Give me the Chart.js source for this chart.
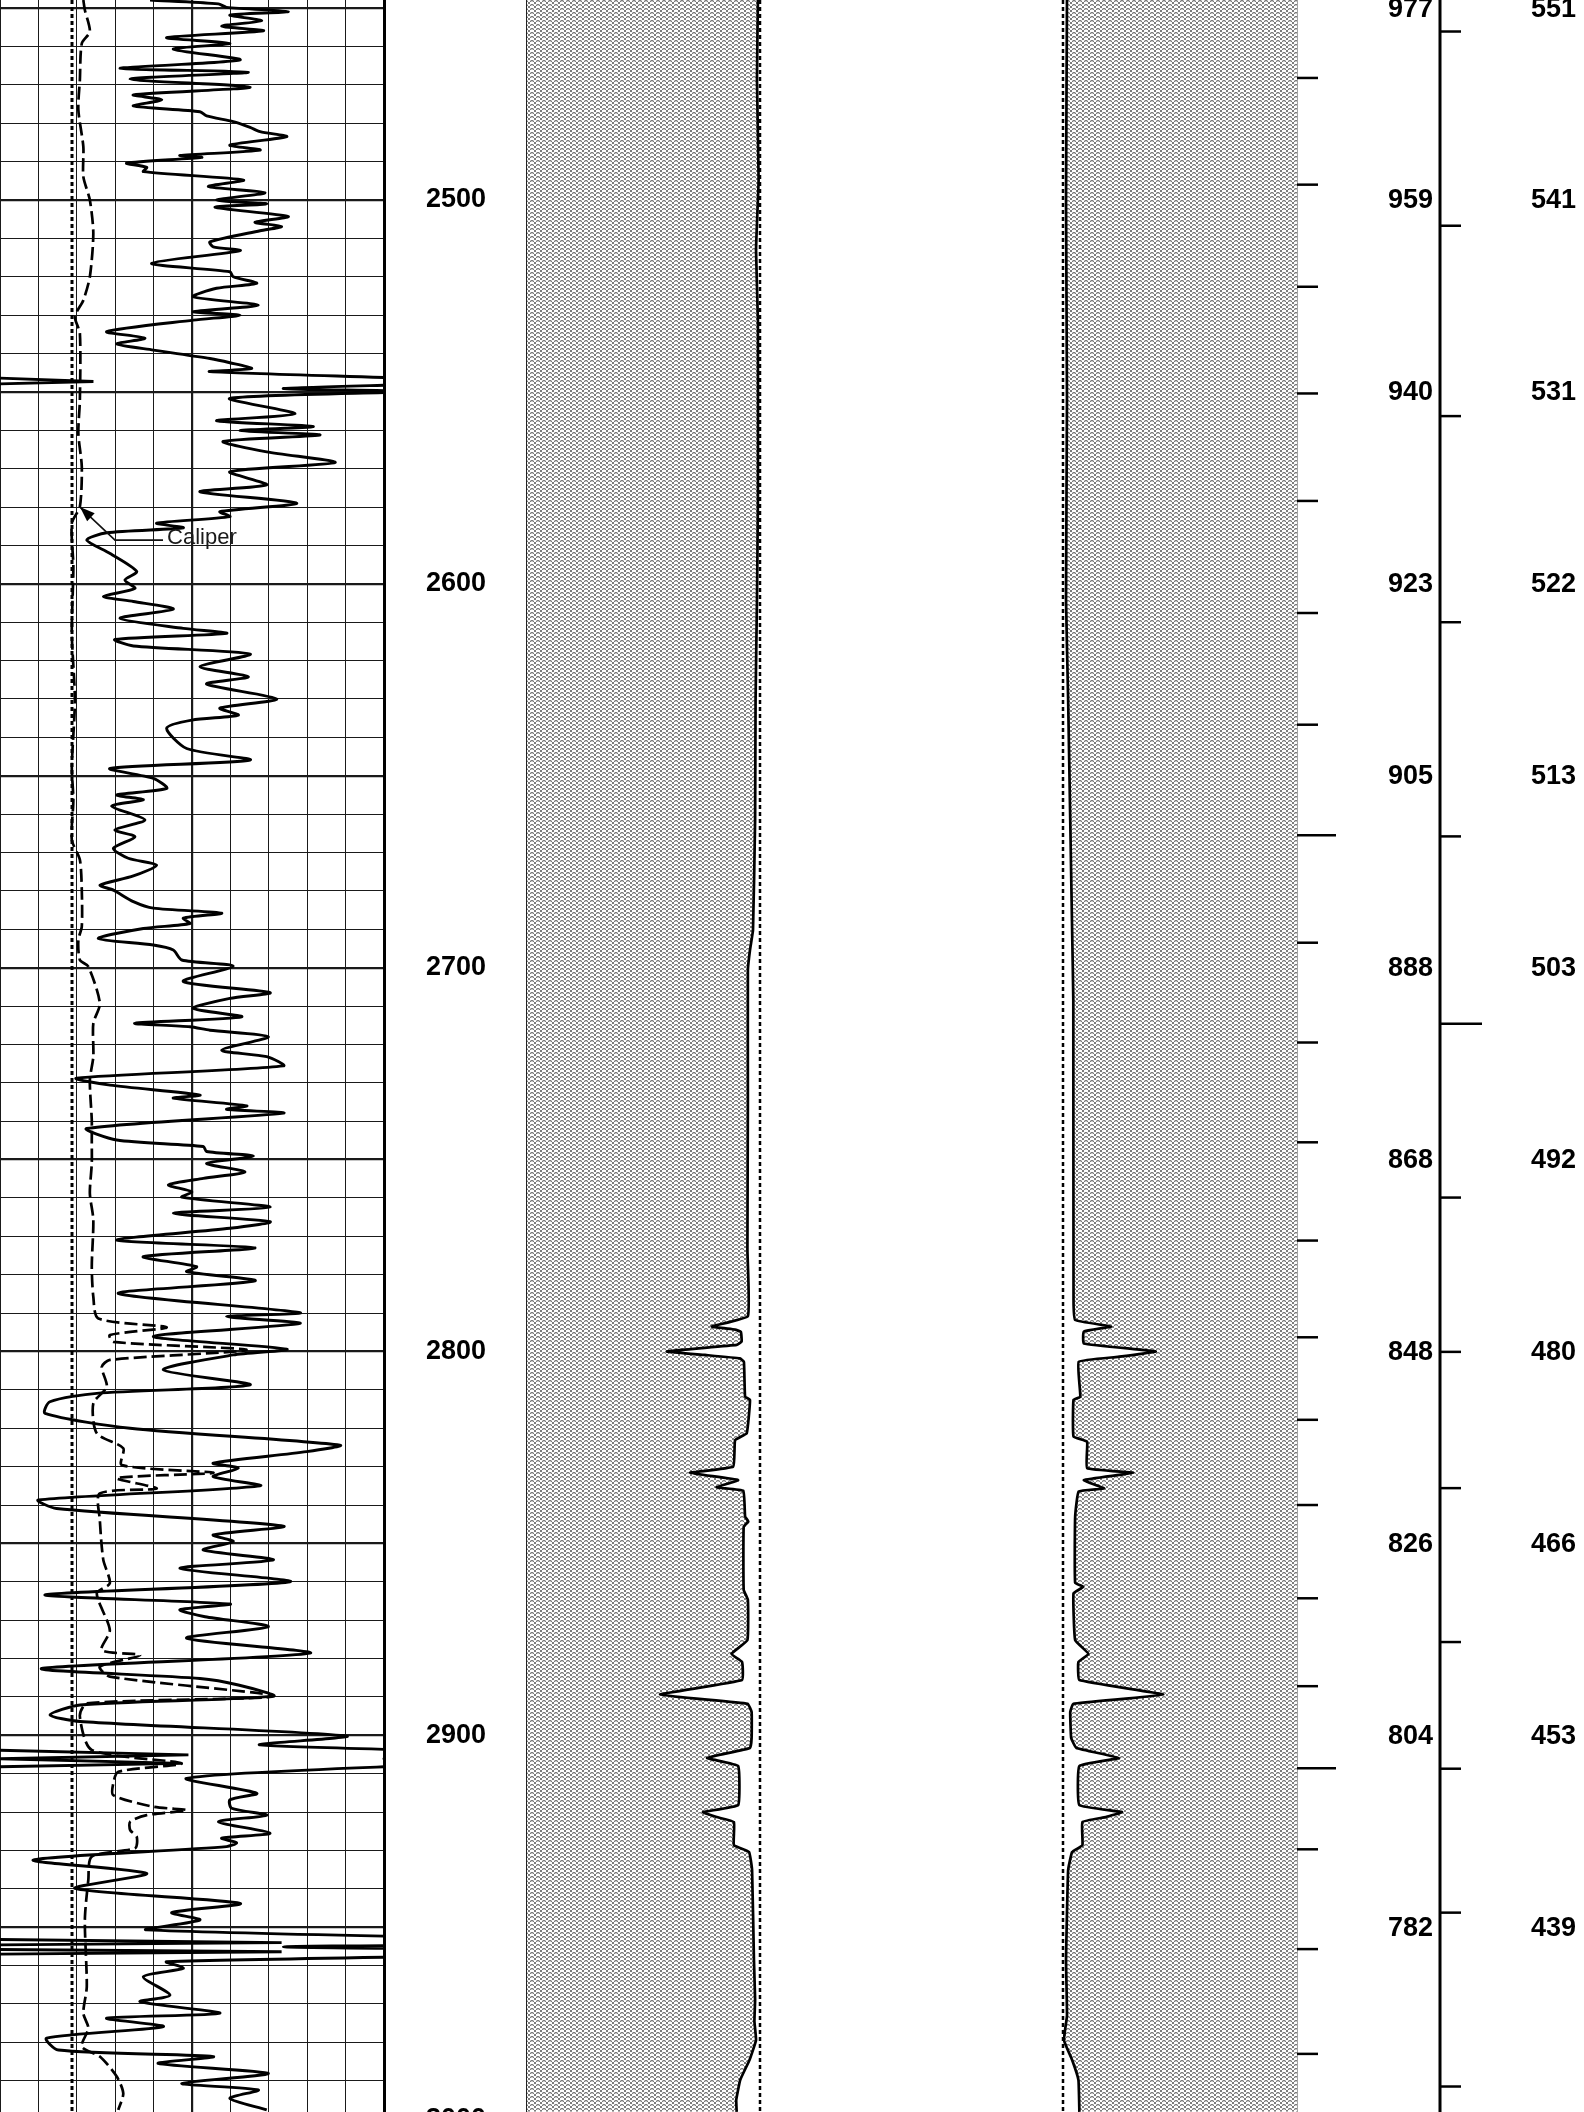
<!DOCTYPE html>
<html><head><meta charset="utf-8">
<script src="https://cdn.jsdelivr.net/npm/chart.js@4.4.1/dist/chart.umd.min.js"></script>
<style>
html,body{margin:0;padding:0;background:#fff;}
#page{position:relative;width:1584px;height:2112px;overflow:hidden;background:#fff;}
canvas{position:absolute;top:0;}
</style></head><body>
<div id="page">
<canvas id="c1" width="527" height="2112" style="left:0px"></canvas>
<canvas id="c2" width="250" height="2112" style="left:520px"></canvas>
<canvas id="c3" width="260" height="2112" style="left:1050px"></canvas>
<canvas id="c4" width="294" height="2112" style="left:1290px"></canvas>
</div>
<script>
// ---- depth window (ft) ----
const depthTop = 2447.89;
const depthBottom = 2998.14;

// ---- track 1: gamma ray (API, 0-150) ----
const grDepth = [2447.9,2448.9,2449.8,2450.9,2451.8,2453.3,2454.7,2455.9,2457.7,2459.2,2460.7,2463.5,2465.7,2466.7,2468.5,2470.6,2472.6,2473.9,2475.5,2477.0,2478.1,2479.6,2481.1,2482.2,2483.5,2485.7,2487.0,2488.4,2488.9,2490.4,2491.5,2492.6,2494.8,2496.5,2498.1,2500.0,2501.0,2501.9,2504.3,2505.8,2506.9,2508.0,2510.9,2512.2,2513.2,2516.5,2518.7,2520.0,2521.7,2523.0,2525.2,2527.4,2529.1,2530.0,2531.3,2534.3,2536.0,2537.5,2539.1,2541.3,2542.4,2543.9,2544.7,2547.3,2549.1,2549.9,2551.7,
2555.7,2557.5,2559.0,2560.1,2561.2,2562.9,2565.6,2568.4,2570.8,2574.2,2576.0,2579.0,2581.2,2582.5,2584.2,2585.4,2586.7,2588.6,2592.1,2596.8,2599.0,2601.2,2603.3,2604.6,2606.6,2609.0,2611.6,2612.9,2614.5,2616.2,2618.3,2621.6,2624.2,2626.1,2630.0,2632.4,2634.2,2635.5,2637.6,2642.9,2645.9,2648.1,2650.7,2653.3,
2655.0,2656.3,2657.9,2661.5,2664.1,2665.9,2668.9,2671.5,2673.3,2676.1,2678.5,2679.8,2682.8,2684.5,2685.8,2687.1,2688.5,2689.8,2692.4,2694.1,2695.4,2698.0,2699.6,2703.6,2706.5,2708.0,2710.6,2712.8,2714.5,2715.4,2716.3,2718.0,2721.5,2723.2,2725.6,2728.8,2730.6,2733.2,2734.0,2736.0,2736.9,2737.9,
2741.9,2744.9,2746.6,2747.9,2749.1,2751.0,2753.2,2754.9,2756.6,2758.4,2759.8,2762.4,2764.0,2766.2,2767.9,2771.0,2773.0,2775.3,2777.9,2779.2,2781.6,2784.9,2789.9,2790.9,2792.7,2796.1,2799.4,2800.9,2804.8,2808.7,2810.9,2813.1,2816.1,2820.0,2824.4,
2826.1,2829.1,2830.4,2832.6,2835.0,2838.7,2840.9,2845.5,2847.8,2849.5,2851.7,2854.3,2856.5,2860.0,2863.4,2865.8,2867.3,2869.1,2871.7,2874.7,2878.6,2882.6,2885.2,2886.9,2889.8,2892.1,2894.7,2896.4,2900.2,2902.5,2905.1,2906.1,2907.3,2908.2,2911.2,
2915.1,2916.8,2919.0,2920.8,2922.5,2925.5,2926.8,2928.0,2929.0,2932.5,2936.0,2939.9,2943.8,2946.2,2948.1,2950.7,2954.0,2955.1,2956.4,2959.0,2960.7,2962.9,2967.7,2969.4,2972.4,2973.7,2975.9,2978.9,2982.0,2983.7,2985.5,2988.1,2990.7,2992.4,2994.6,2997.6];
const grValue = [58.6,85.3,88.5,112.6,89.8,102.2,86.6,102.9,65.1,89.8,67.7,93.8,46.9,97.0,50.8,97.7,52.1,63.2,52.1,78.1,80.7,91.1,97.7,101.6,112.0,89.8,101.6,70.3,78.8,49.5,57.3,56.0,95.1,81.4,103.5,84.6,104.2,84.0,112.6,99.6,110.0,101.6,82.0,83.3,93.8,59.2,89.8,91.1,100.3,84.6,75.5,100.9,75.5,93.8,75.5,41.7,56.6,45.6,59.9,82.0,89.8,98.3,82.0,186.5,110.7,160,89.8,
115.2,84.6,122.4,93.8,125.0,87.2,104.2,130.9,89.8,104.2,78.1,115.9,85.9,89.8,61.2,71.6,41.7,33.9,43.0,53.4,48.8,52.7,40.4,52.1,67.7,46.9,71.6,88.5,44.9,52.1,97.7,78.1,97.0,80.7,108.1,85.9,93.1,74.9,65.1,72.9,97.7,43.0,59.9,65.1,
45.6,56.0,43.6,56.6,44.9,52.7,44.3,50.1,61.2,52.1,39.1,44.3,52.1,59.9,86.6,71.6,74.2,56.0,38.4,59.9,67.7,71.0,91.1,71.6,105.5,89.8,75.5,94.4,52.7,74.2,82.0,104.8,86.6,104.2,110.7,29.9,43.0,78.1,67.7,96.4,88.5,110.7,
33.9,45.6,79.4,80.7,99.0,80.7,95.7,79.4,65.8,74.9,71.0,105.5,67.7,105.5,89.8,45.6,99.6,56.0,76.8,72.9,99.6,46.2,117.2,88.5,117.2,59.9,112.0,91.1,63.8,97.7,37.8,19.5,17.6,50.8,132.8,
119.8,83.3,93.1,83.3,101.6,15.0,22.1,110.7,83.3,91.1,79.4,106.8,70.3,113.3,17.6,89.8,70.3,80.1,104.8,72.9,121.1,16.3,78.1,93.1,106.8,31.3,19.5,31.3,135.4,101.6,223.6,150,221,150,72.9,
100.3,89.8,90.5,104.2,85.3,105.5,86.6,92.4,88.5,13.0,57.3,29.3,93.8,67.1,78.1,57.3,260,110.7,260,65.1,71.6,56.0,66.4,54.7,85.9,41.7,63.8,18.2,22.8,83.3,61.8,104.8,71.0,100.9,89.8,104.2];

// gamma ray backup trace (wrap-around, value minus 150), null = not shown
const grBackupDepth = [2546.4,2547.3,2547.9,2548.0,2903.9,2905.1,2906.1,2907.3,2908.2,2908.3,2953.2,2954.0,2954.6,2955.0,2955.8,2956.4,2957.0];
const grBackupValue = [0,36.5,0,null,0,73.6,0,71,0,null,0,110,0,null,0,110,0];

// ---- track 1: caliper (in, 6-16) ----
const calDepth = [2447.9,2450.5,2456.1,2459.2,2468.7,2476.5,2486.1,2493.9,2500.0,2508.7,2520.0,2526.1,2530.4,2534.7,2552.1,2560.8,2569.5,2579.9,2584.2,2595.5,2612.9,2630.3,2647.6,2656.3,2666.7,2671.9,2679.8,2689.3,2692.8,2698.0,2699.7,2709.3,2714.5,2723.2,2729.3,2739.7,2744.9,2751.0,2758.8,2765.7,2777.9,2785.7,2791.4,2793.7,2795.7,2797.5,2799.6,2802.2,2804.0,2809.2,2813.5,2821.3,2825.2,2829.6,2831.6,2833.0,2835.7,2837.0,2843.9,2854.3,2860.4,2863.0,2872.6,2877.8,2879.1,2882.1,2884.7,2889.8,2891.7,2895.1,2903.8,2907.3,2909.5,2912.5,2915.6,2918.6,2919.5,2920.8,2922.5,2924.7,2926.4,2929.4,2931.6,2937.7,2948.1,2965.5,2972.4,2976.3,2981.1,2983.7,2988.9,2993.3,2997.6];
const calValue = [8.17,8.21,8.34,8.13,8.08,8.04,8.17,8.17,8.34,8.43,8.34,8.17,7.95,8.08,8.08,8.04,8.13,8.08,7.87,7.91,7.87,7.95,7.87,7.91,7.87,8.08,8.13,8.13,8.04,8.08,8.30,8.60,8.43,8.43,8.34,8.39,8.39,8.39,8.34,8.43,8.39,8.43,8.56,10.34,8.86,8.95,12.42,8.86,8.65,8.78,8.43,8.52,9.21,9.17,11.56,9.04,10.08,8.60,8.60,8.69,8.86,8.52,8.86,8.65,9.65,8.60,8.86,13.12,8.26,8.08,8.39,10.73,9.08,8.95,8.95,9.99,10.86,9.82,9.39,9.39,9.56,9.52,8.39,8.30,8.21,8.26,8.17,8.30,8.13,8.60,9.04,9.21,9.08];
const bitSize = 7.875;

// ---- track 2 curve (0-100, filled to the left) ----
const curveADepth = [2447.9,2468.7,2494.8,2513.0,2531.3,2578.2,2604.2,2630.3,2661.5,2690.2,2695.4,2700.6,2734.5,2773.5,2790.8,2793.5,2794.3,2794.9,2797.4,2798.3,2800.0,2800.9,2801.8,2802.7,2811.8,2812.6,2821.3,2823.1,2830.0,2831.6,2833.5,2835.4,2836.3,2843.0,2844.3,2845.7,2862.1,2864.7,2875.2,2878.8,2880.9,2885.6,2889.4,2891.8,2893.9,2900.7,2903.3,2905.9,2908.0,2918.2,2920.0,2921.3,2922.6,2928.6,2930.4,2935.1,2958.5,2968.9,2974.5,2979.4,2984.6,2989.8,2995.0,2998.1];
const curveAValue = [99.1,98.7,99.4,98.3,99.1,99.1,98.7,98.1,97.9,97.0,95.7,94.8,94.8,94.6,94.8,79.3,89.3,91.8,92.1,90.0,60.0,76.4,91.4,93.1,93.6,95.7,94.3,89.3,88.5,70.0,90.6,81.4,92.8,93.6,95.0,93.0,93.0,94.8,94.6,87.7,92.3,92.3,57.1,94.7,96.4,96.4,95.7,77.3,90.6,90.6,75.5,81.4,88.8,88.8,95.3,96.6,97.4,97.9,97.6,98.3,95.5,91.5,89.8,90.0];

// ---- track 3 curve (0-100 reversed, filled to the right) ----
const curveBDepth = [2447.9,2500.0,2552.1,2604.2,2630.3,2690.2,2708.4,2786.6,2791.8,2793.5,2794.8,2797.9,2800.0,2801.4,2802.7,2811.8,2812.6,2822.2,2823.5,2830.4,2831.6,2833.5,2835.7,2836.5,2843.0,2860.3,2861.3,2863.0,2875.2,2878.8,2880.9,2885.6,2889.4,2891.8,2893.9,2900.7,2903.3,2905.9,2908.0,2918.2,2920.0,2921.3,2922.6,2928.6,2930.4,2935.1,2958.5,2973.1,2979.4,2984.6,2989.8,2998.1];
const curveBValue = [98.3,98.7,98.3,98.7,97.8,96.1,95.6,95.5,94.8,79.5,91.1,91.1,60.4,76.5,93.3,92.6,95.5,95.5,89.7,89.7,70.0,91.1,82.4,93.3,94.8,94.8,91.3,95.5,94.8,89.1,93.4,93.0,57.2,95.6,96.9,96.5,94.3,76.0,93.0,93.0,74.8,81.7,91.7,91.7,96.1,97.8,98.7,98.3,99.6,96.1,93.4,93.0];

// ---- depth labels and right-hand scales ----
const depthLabelValues = [2500,2600,2700,2800,2900,3000];
const scaleALabelDepths = [2450,2500,2550,2600,2650,2700,2750,2800,2850,2900,2950];
const scaleALabels = [977,959,940,923,905,888,868,848,826,804,782];
const scaleBLabels = [551,541,531,522,513,503,492,480,466,453,439];
const scaleATickValues = [970,960,950,940,930,920,910,900,890,880,870,860,850,840,830,820,810,800,790,780,770];
const scaleATickDepths = [2468.2,2496.0,2522.6,2550.4,2578.4,2607.6,2636.7,2665.5,2693.5,2719.5,2745.5,2771.1,2796.3,2817.8,2840.0,2864.3,2887.2,2908.6,2929.7,2955.7,2983.0];
const scaleBTickValues = [550,540,530,520,510,500,490,480,470,460,450,440,430];
const scaleBTickDepths = [2456.1,2506.7,2556.3,2610.0,2665.8,2714.6,2759.9,2800.1,2835.6,2875.7,2908.7,2946.2,2991.5];

// callout
const calloutText = 'Caliper';
const calloutTip = {cal: 8.083, depth: 2580.0};
const calloutElbow = {cal: 8.995, depth: 2588.6};
const calloutEndCal = 10.245;

// ---------------------------------------------------------------
const FONT = '"Liberation Sans", Arial, Helvetica, sans-serif';
const pts = (d, v) => d.map((y, i) => ({x: v[i], y: y}));
const gridDepths = []; for (let d = 2450; d <= 3000; d += 10) gridDepths.push(d);
const calGrid = [6,7,8,9,10,11,12,13,14,15,16];

function makePattern() {
  const c = document.createElement('canvas'); c.width = 6; c.height = 4;
  const g = c.getContext('2d');
  g.fillStyle = '#ffffff'; g.fillRect(0, 0, 6, 4);
  g.fillStyle = '#7c7c7c';
  [[0,0],[1,1],[2,2],[3,2],[4,1],[5,0],[2,3],[3,3]].forEach(p => g.fillRect(p[0], p[1], 1, 1));
  g.fillStyle = '#c4c4c4';
  [[1,0],[4,0],[0,1],[5,1]].forEach(p => g.fillRect(p[0], p[1], 1, 1));
  return g.createPattern(c, 'repeat');
}

const common = {
  responsive: false, animation: false, devicePixelRatio: 1, indexAxis: 'y',
  plugins: {legend: {display: false}, tooltip: {enabled: false}},
  elements: {point: {radius: 0}, line: {tension: 0.1}}
};
const noPad = s => { s.paddingTop = 0; s.paddingBottom = 0; s.paddingLeft = 0; s.paddingRight = 0; };

const calloutPlugin = {
  id: 'callout',
  afterDatasetsDraw(chart) {
    const xs = chart.scales.xCal, ys = chart.scales.y, ctx = chart.ctx;
    const tx = xs.getPixelForValue(calloutTip.cal), ty = ys.getPixelForValue(calloutTip.depth);
    const bx = xs.getPixelForValue(calloutElbow.cal), by = ys.getPixelForValue(calloutElbow.depth);
    const ex = xs.getPixelForValue(calloutEndCal);
    ctx.save();
    ctx.strokeStyle = '#111'; ctx.lineWidth = 1.6;
    ctx.beginPath(); ctx.moveTo(ex, by); ctx.lineTo(bx, by); ctx.lineTo(tx, ty); ctx.stroke();
    const a = Math.atan2(ty - by, tx - bx), L = 15, W = 5.5;
    ctx.beginPath(); ctx.moveTo(tx, ty);
    ctx.lineTo(tx - L*Math.cos(a) + W*Math.sin(a), ty - L*Math.sin(a) - W*Math.cos(a));
    ctx.lineTo(tx - L*Math.cos(a) - W*Math.sin(a), ty - L*Math.sin(a) + W*Math.cos(a));
    ctx.closePath(); ctx.fillStyle = '#000'; ctx.fill();
    ctx.font = '22px ' + FONT; ctx.fillStyle = '#1a1a1a'; ctx.textBaseline = 'alphabetic'; ctx.textAlign = 'left';
    ctx.fillText(calloutText, ex + 4, by + 4);
    ctx.restore();
  }
};

// ---- chart 1: GR + caliper track with depth labels ----
new Chart(document.getElementById('c1'), {
  type: 'line',
  data: {datasets: [
    {label: 'Bit size', data: [{x: bitSize, y: depthTop}, {x: bitSize, y: depthBottom}], xAxisID: 'xCal', yAxisID: 'y',
     borderColor: '#000', borderWidth: 3, borderDash: [4, 3], tension: 0},
    {label: 'Caliper', data: pts(calDepth, calValue), xAxisID: 'xCal', yAxisID: 'y',
     borderColor: '#000', borderWidth: 2.7, borderDash: [13, 5], tension: 0.25},
    {label: 'Gamma ray', data: pts(grDepth, grValue), xAxisID: 'xGR', yAxisID: 'y',
     borderColor: '#000', borderWidth: 2.9, tension: 0.25},
    {label: 'Gamma ray backup', data: pts(grBackupDepth, grBackupValue), xAxisID: 'xGR', yAxisID: 'y',
     borderColor: '#000', borderWidth: 2.9, spanGaps: false, tension: 0}
  ]},
  options: Object.assign({}, common, {
    layout: {padding: 0, autoPadding: false},
    scales: {
      y: {type: 'linear', position: 'right', reverse: true, min: depthTop, max: depthBottom,
          afterBuildTicks: s => { s.ticks = gridDepths.map(v => ({value: v})); },
          afterFit: s => { s.width = 143; noPad(s); },
          grid: {drawTicks: false, color: '#1a1a1a', lineWidth: c => (c.tick && c.tick.value % 50 === 0) ? 2.2 : 1},
          border: {display: true, color: '#000', width: 3},
          ticks: {autoSkip: false, padding: 42, crossAlign: 'near', color: '#000',
                  font: {family: FONT, size: 27, weight: 'bold'},
                  callback: v => depthLabelValues.includes(v) ? String(v) : ''}},
      xCal: {type: 'linear', axis: 'x', position: 'bottom', min: 6, max: 16,
             afterBuildTicks: s => { s.ticks = calGrid.map(v => ({value: v})); },
             afterFit: s => { s.height = 0; noPad(s); },
             grid: {drawTicks: false, color: '#1a1a1a', lineWidth: c => (c.tick && c.tick.value === 11) ? 2.2 : 1},
             border: {display: false}, ticks: {display: false}},
      xGR: {type: 'linear', axis: 'x', position: 'bottom', min: 0, max: 150, display: false}
    }
  }),
  plugins: [calloutPlugin]
});

const pattern = makePattern();

// ---- chart 2: track with fill to the left ----
new Chart(document.getElementById('c2'), {
  type: 'line',
  data: {datasets: [
    {label: 'Curve A', data: pts(curveADepth, curveAValue), borderColor: '#000', borderWidth: 2.7,
     fill: {value: 0}, backgroundColor: pattern},
    {label: 'Baseline A', data: [{x: 100, y: depthTop}, {x: 100, y: depthBottom}], borderColor: '#000',
     borderWidth: 2.5, borderDash: [4, 3], clip: false, fill: false, tension: 0}
  ]},
  options: Object.assign({}, common, {
    layout: {padding: {left: 7, right: 10, top: 0, bottom: 0}, autoPadding: false},
    scales: {
      x: {type: 'linear', min: 0, max: 100, display: false},
      y: {type: 'linear', position: 'left', reverse: true, min: depthTop, max: depthBottom,
          afterFit: s => { s.width = 0; noPad(s); }, grid: {display: false}, ticks: {display: false},
          border: {display: true, color: '#222', width: 1.6}}
    }
  })
});

// ---- chart 3: mirrored track with fill to the right ----
new Chart(document.getElementById('c3'), {
  type: 'line',
  data: {datasets: [
    {label: 'Curve B', data: pts(curveBDepth, curveBValue), borderColor: '#000', borderWidth: 2.7,
     fill: {value: 0}, backgroundColor: pattern},
    {label: 'Baseline B', data: [{x: 100, y: depthTop}, {x: 100, y: depthBottom}], borderColor: '#000',
     borderWidth: 2.5, borderDash: [4, 3], clip: false, fill: false, tension: 0}
  ]},
  options: Object.assign({}, common, {
    layout: {padding: {left: 13, right: 13, top: 0, bottom: 0}, autoPadding: false},
    scales: {
      x: {type: 'linear', min: 0, max: 100, reverse: true, display: false},
      y: {type: 'linear', position: 'right', reverse: true, min: depthTop, max: depthBottom,
          afterFit: s => { s.width = 0; noPad(s); }, grid: {display: false}, ticks: {display: false},
          border: {display: true, color: '#666', width: 1.6}}
    }
  })
});

// ---- chart 4: the two right-hand scales ----
const sideScales = {
  id: 'sideScales',
  afterDraw(chart) {
    const ys = chart.scales.y, ctx = chart.ctx, H = chart.height;
    const aX = 7, bX = 150;
    ctx.save();
    ctx.strokeStyle = '#000'; ctx.lineCap = 'butt';
    ctx.lineWidth = 3;
    ctx.beginPath(); ctx.moveTo(bX, 0); ctx.lineTo(bX, H); ctx.stroke();
    ctx.lineWidth = 2.5;
    scaleATickDepths.forEach((d, i) => {
      const y = ys.getPixelForValue(d), len = scaleATickValues[i] % 100 === 0 ? 39 : 21;
      ctx.beginPath(); ctx.moveTo(aX, y); ctx.lineTo(aX + len, y); ctx.stroke();
    });
    scaleBTickDepths.forEach((d, i) => {
      const y = ys.getPixelForValue(d), len = scaleBTickValues[i] % 100 === 0 ? 42 : 21;
      ctx.beginPath(); ctx.moveTo(bX, y); ctx.lineTo(bX + len, y); ctx.stroke();
    });
    ctx.font = 'bold 27px ' + FONT; ctx.fillStyle = '#000'; ctx.textAlign = 'right'; ctx.textBaseline = 'middle';
    scaleALabelDepths.forEach((d, i) => {
      const y = ys.getPixelForValue(d);
      ctx.fillText(String(scaleALabels[i]), 143, y + 1);
      ctx.fillText(String(scaleBLabels[i]), 286, y + 1);
    });
    ctx.restore();
  }
};
new Chart(document.getElementById('c4'), {
  type: 'line',
  data: {datasets: []},
  options: Object.assign({}, common, {
    layout: {padding: 0, autoPadding: false},
    scales: {
      x: {type: 'linear', min: 0, max: 1, display: false},
      y: {type: 'linear', reverse: true, min: depthTop, max: depthBottom, display: false}
    }
  }),
  plugins: [sideScales]
});
</script>
</body></html>
